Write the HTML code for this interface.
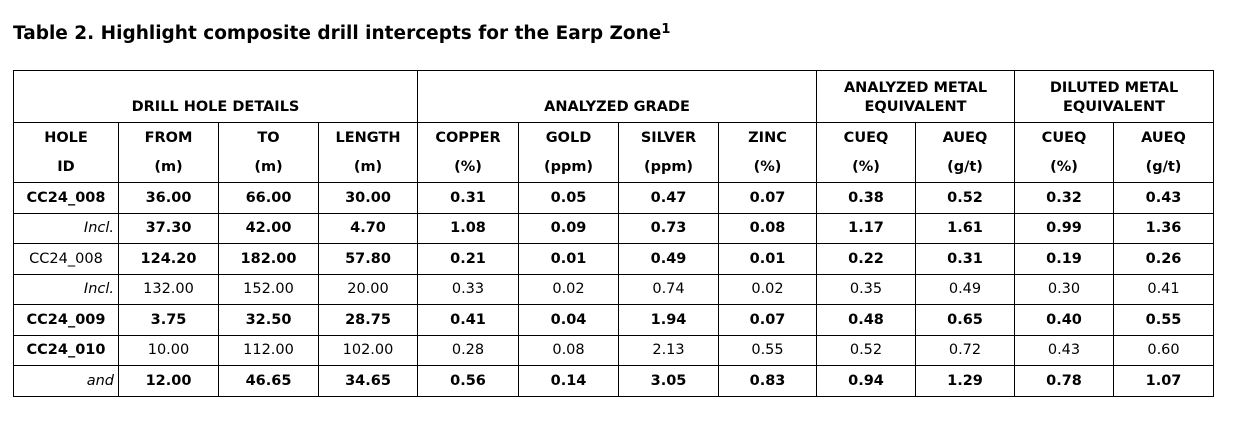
<!DOCTYPE html>
<html><head><meta charset="utf-8"><style>
body{margin:0;width:1246px;height:430px;background:#fff;font-family:"DejaVu Sans",Verdana,"Liberation Sans",sans-serif;color:#000;position:relative;overflow:hidden}
h1{position:absolute;left:13px;top:23px;margin:0;font-size:18.5px;font-weight:bold;white-space:nowrap}
h1 sup{font-size:13px;vertical-align:6px;line-height:0}
table{position:absolute;left:13px;top:70px;border-collapse:collapse;table-layout:fixed;font-size:14.5px}
td{border:1px solid #000;text-align:center;padding:0 4px;height:29.5px;white-space:nowrap;overflow:hidden}
td.r{text-align:right}
.b{font-weight:bold}
.i{font-style:italic}
tr.h td{font-weight:bold}
tr.h1 td{height:46px;vertical-align:bottom;padding-bottom:5px;line-height:19px}
tr.top td{border-bottom:none}
tr.bot td{border-top:none}
</style></head><body>
<h1>Table 2. Highlight composite drill intercepts for the Earp Zone<sup>1</sup></h1>
<table>
<colgroup><col style="width:105px"><col style="width:100px"><col style="width:100px"><col style="width:99px"><col style="width:101px"><col style="width:100px"><col style="width:100px"><col style="width:98px"><col style="width:99px"><col style="width:99px"><col style="width:99px"><col style="width:100px"></colgroup>
<tr class="h h1"><td colspan="4">DRILL HOLE DETAILS</td><td colspan="4">ANALYZED GRADE</td><td colspan="2">ANALYZED METAL<br>EQUIVALENT</td><td colspan="2">DILUTED METAL<br>EQUIVALENT</td></tr>
<tr class="h top"><td>HOLE</td><td>FROM</td><td>TO</td><td>LENGTH</td><td>COPPER</td><td>GOLD</td><td>SILVER</td><td>ZINC</td><td>CUEQ</td><td>AUEQ</td><td>CUEQ</td><td>AUEQ</td></tr>
<tr class="h bot"><td>ID</td><td>(m)</td><td>(m)</td><td>(m)</td><td>(%)</td><td>(ppm)</td><td>(ppm)</td><td>(%)</td><td>(%)</td><td>(g/t)</td><td>(%)</td><td>(g/t)</td></tr>
<tr class="h"><td>CC24_008</td><td>36.00</td><td>66.00</td><td>30.00</td><td>0.31</td><td>0.05</td><td>0.47</td><td>0.07</td><td>0.38</td><td>0.52</td><td>0.32</td><td>0.43</td></tr>
<tr class="h"><td class="r i" style="font-weight:normal">Incl.</td><td>37.30</td><td>42.00</td><td>4.70</td><td>1.08</td><td>0.09</td><td>0.73</td><td>0.08</td><td>1.17</td><td>1.61</td><td>0.99</td><td>1.36</td></tr>
<tr class="h"><td style="font-weight:normal">CC24_008</td><td>124.20</td><td>182.00</td><td>57.80</td><td>0.21</td><td>0.01</td><td>0.49</td><td>0.01</td><td>0.22</td><td>0.31</td><td>0.19</td><td>0.26</td></tr>
<tr><td class="r i">Incl.</td><td>132.00</td><td>152.00</td><td>20.00</td><td>0.33</td><td>0.02</td><td>0.74</td><td>0.02</td><td>0.35</td><td>0.49</td><td>0.30</td><td>0.41</td></tr>
<tr class="h"><td>CC24_009</td><td>3.75</td><td>32.50</td><td>28.75</td><td>0.41</td><td>0.04</td><td>1.94</td><td>0.07</td><td>0.48</td><td>0.65</td><td>0.40</td><td>0.55</td></tr>
<tr><td class="b">CC24_010</td><td>10.00</td><td>112.00</td><td>102.00</td><td>0.28</td><td>0.08</td><td>2.13</td><td>0.55</td><td>0.52</td><td>0.72</td><td>0.43</td><td>0.60</td></tr>
<tr class="h"><td class="r i" style="font-weight:normal">and</td><td>12.00</td><td>46.65</td><td>34.65</td><td>0.56</td><td>0.14</td><td>3.05</td><td>0.83</td><td>0.94</td><td>1.29</td><td>0.78</td><td>1.07</td></tr>
</table>
</body></html>
